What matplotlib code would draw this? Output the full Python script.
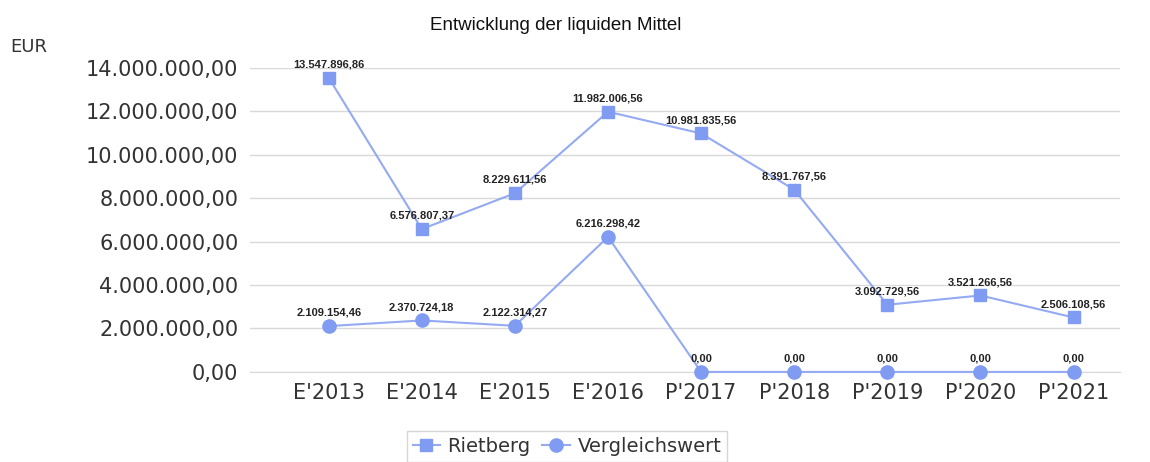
import numpy as np
import matplotlib
matplotlib.use('Agg')
import matplotlib.pyplot as plt
from matplotlib.ticker import FuncFormatter

categories = ["E'2013", "E'2014", "E'2015", "E'2016", "P'2017", "P'2018", "P'2019", "P'2020", "P'2021"]
rietberg = [13547896.86, 6576807.37, 8229611.56, 11982006.56, 10981835.56,
            8391767.56, 3092729.56, 3521266.56, 2506108.56]
vergleich = [2109154.46, 2370724.18, 2122314.27, 6216298.42, 0, 0, 0, 0, 0]
yticks = [0, 2e6, 4e6, 6e6, 8e6, 10e6, 12e6, 14e6]


def de_fmt(v, pos=None):
    s = f"{v:,.2f}"
    return s.replace(',', 'X').replace('.', ',').replace('X', '.')


line_col = '#94aaf2'
mark_col = '#7f9cf2'

fig = plt.figure(figsize=(11.5, 4.62), dpi=100)
ax = fig.add_axes([0.217, 0.195, 0.757, 0.658])
x = np.arange(len(categories))

ax.plot(x, rietberg, color=line_col, lw=1.5, marker='s', ms=9,
        mfc=mark_col, mec=mark_col, label='Rietberg', zorder=3)
ax.plot(x, vergleich, color=line_col, lw=1.5, marker='o', ms=9.5,
        mfc=mark_col, mec=mark_col, label='Vergleichswert', zorder=3)

for xs, ys in ((x, rietberg), (x, vergleich)):
    for xi, yi in zip(xs, ys):
        ax.annotate(de_fmt(yi), (xi, yi), xytext=(0, 6), textcoords='offset points',
                    ha='center', va='bottom', fontsize=8, fontweight='bold',
                    family='Liberation Sans', color='#222222')

ax.set_xlim(-0.85, len(categories) - 0.5)
ax.set_ylim(0, 14e6)
ax.set_yticks(yticks)
ax.yaxis.set_major_formatter(FuncFormatter(de_fmt))
ax.set_xticks(x)
ax.set_xticklabels(categories)
ax.tick_params(axis='both', length=0, labelsize=15, labelcolor='#333333', pad=8)
ax.grid(axis='y', color='#d9d9d9', lw=1)
ax.set_axisbelow(True)
for s in ('top', 'right', 'left'):
    ax.spines[s].set_visible(False)
ax.spines['bottom'].set_color('#d9d9d9')
for ln in ax.lines:
    ln.set_clip_on(False)

fig.text(0.483, 0.945, 'Entwicklung der liquiden Mittel', ha='center', va='center',
         fontsize=13.5, family='Liberation Sans', color='#111111')
fig.text(0.009, 0.898, 'EUR', ha='left', va='center', fontsize=13, color='#333333')

leg = fig.legend(loc='lower center', bbox_to_anchor=(0.493, -0.02), ncol=2,
                 fontsize=14, frameon=True, fancybox=False, edgecolor='#cccccc',
                 handlelength=1.4, handletextpad=0.4, columnspacing=0.6,
                 borderpad=0.3, labelcolor='#333333')

fig.savefig('out.png', dpi=100)
